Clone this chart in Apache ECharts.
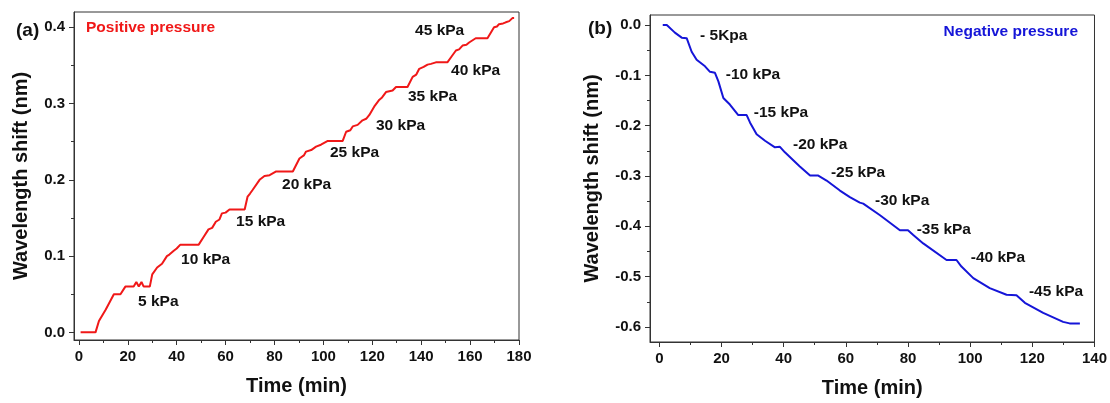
<!DOCTYPE html>
<html>
<head>
<meta charset="utf-8">
<script src="https://cdn.jsdelivr.net/npm/echarts@6/dist/echarts.min.js"></script>
<style>
    html, body { margin: 0; padding: 0; background: #fff; }
    #main { width: 1110px; height: 403px; }
</style>
</head>
<body>
<div id="main"></div>
<script>

// (a) positive pressure, red curve
var posTime  = [0.7, 6.8, 8.2, 11, 14.3, 17, 19, 22.4, 23.5, 24.5, 25.6, 26.5, 29, 30, 32, 34, 36, 37, 38.8, 40, 41.5, 49, 51, 53, 54.5, 56, 57.5, 58.5, 60, 61.6, 67.8, 69, 70, 71.1, 73.9, 75.9, 78, 80.7, 87.5, 90.2, 92, 92.9, 95, 97, 99, 101.8, 107.9, 109.3, 111, 112, 114, 116, 117.5, 118.8, 121, 122.9, 124, 125.6, 128.3, 129.7, 134.4, 136.5, 138, 139.2, 141, 142.6, 144, 146, 150.7, 152.5, 154.2, 155.5, 156.9, 158.5, 159.6, 162.3, 167.1, 169.8, 171, 171.8, 173.5, 174.6, 176, 177.3, 178];
var posShift = [0, 0, 0.015, 0.03, 0.05, 0.05, 0.06, 0.06, 0.066, 0.06, 0.066, 0.06, 0.06, 0.076, 0.085, 0.09, 0.1, 0.102, 0.107, 0.11, 0.115, 0.115, 0.125, 0.135, 0.137, 0.145, 0.148, 0.156, 0.157, 0.161, 0.161, 0.178, 0.182, 0.187, 0.2, 0.205, 0.206, 0.211, 0.211, 0.228, 0.232, 0.237, 0.239, 0.2435, 0.246, 0.251, 0.251, 0.263, 0.265, 0.27, 0.272, 0.278, 0.28, 0.285, 0.297, 0.305, 0.308, 0.315, 0.317, 0.3216, 0.3216, 0.335, 0.338, 0.3455, 0.348, 0.351, 0.352, 0.354, 0.354, 0.362, 0.3695, 0.371, 0.376, 0.377, 0.38, 0.3856, 0.3856, 0.4, 0.401, 0.404, 0.405, 0.4065, 0.408, 0.412, 0.412];

// (b) negative pressure, blue curve
var negTime  = [1.1, 2.4, 5, 7.2, 8.8, 10.4, 12, 14.7, 16.3, 17.9, 19, 20.6, 22.7, 25.4, 28.1, 29.2, 31.3, 34, 37.2, 38.8, 40.4, 45.2, 48.5, 51, 53.8, 58.1, 61.3, 64.5, 65.6, 71, 77.4, 80, 81.7, 84.9, 92.4, 95.6, 97.2, 101, 106.3, 111.7, 114.9, 117.6, 123.5, 129.9, 132, 135.3];
var negShift = [0, 0, -0.015, -0.025, -0.026, -0.053, -0.069, -0.082, -0.093, -0.095, -0.112, -0.145, -0.158, -0.179, -0.179, -0.194, -0.217, -0.23, -0.243, -0.242, -0.253, -0.281, -0.299, -0.299, -0.309, -0.329, -0.342, -0.353, -0.355, -0.378, -0.408, -0.408, -0.4175, -0.434, -0.467, -0.467, -0.48, -0.503, -0.523, -0.536, -0.537, -0.552, -0.572, -0.59, -0.593, -0.593];

// pressure labels [time, shift, text]
var posNotes = [[24.2, 0.0405, '5 kPa'], [41.8, 0.095, '10 kPa'], [64.3, 0.145, '15 kPa'], [83.1, 0.193, '20 kPa'], [102.7, 0.235, '25 kPa'], [121.5, 0.2705, '30 kPa'], [134.6, 0.3086, '35 kPa'], [152.2, 0.3427, '40 kPa'], [137.5, 0.395, '45 kPa']];
var negNotes = [[13.1, -0.0217, '- 5Kpa'], [21.4, -0.0986, '-10 kPa'], [30.4, -0.1736, '-15 kPa'], [43.0, -0.2387, '-20 kPa'], [55.2, -0.2939, '-25 kPa'], [69.4, -0.349, '-30 kPa'], [82.8, -0.406, '-35 kPa'], [100.2, -0.4615, '-40 kPa'], [118.9, -0.5306, '-45 kPa']];

// tick labels
var posXLabels = [0, 20, 40, 60, 80, 100, 120, 140, 160, 180];
var posXMinor  = [10, 30, 50, 70, 90, 110, 130, 150, 170];
var posYLabels = [0, 0.1, 0.2, 0.3, 0.4];
var posYMinor  = [0.05, 0.15, 0.25, 0.35];
var negXLabels = [0, 20, 40, 60, 80, 100, 120, 140];
var negXMinor  = [10, 30, 50, 70, 90, 110, 130];
var negYLabels = [-0.6, -0.5, -0.4, -0.3, -0.2, -0.1, 0];
var negYMinor  = [-0.55, -0.45, -0.35, -0.25, -0.15, -0.05];

var FONT = '"Liberation Sans", Arial, sans-serif';
var AXIS_COLOR = '#333';

function zip(xs, ys) {
    var out = [];
    for (var i = 0; i < xs.length; i++) out.push([xs[i], ys[i]]);
    return out;
}

function mainAxis(kind, grid, min, max, labels, opts) {
    var a = {
        type: 'value', gridIndex: grid, min: min, max: max,
        position: kind === 'y' ? 'left' : 'bottom',
        axisLine: { show: true, onZero: false, lineStyle: { color: AXIS_COLOR, width: 1 } },
        axisTick: { show: true, length: 5, customValues: labels, lineStyle: { color: AXIS_COLOR } },
        axisLabel: {
            customValues: labels, margin: 9,
            color: '#111', fontFamily: FONT, fontWeight: 'bold', fontSize: 15,
            formatter: kind === 'y' ? function (v) { return v.toFixed(1); } : function (v) { return String(v); }
        },
        splitLine: { show: false },
        name: kind === 'y' ? 'Wavelength shift (nm)' : 'Time (min)',
        nameLocation: 'middle',
        nameTextStyle: { color: '#111', fontFamily: FONT, fontWeight: 'bold', fontSize: 20 }
    };
    for (var k in opts) a[k] = opts[k];
    return a;
}

// second axis on the same side, only for the short minor ticks
function minorAxis(kind, grid, min, max, ticks) {
    return {
        type: 'value', gridIndex: grid, min: min, max: max,
        position: kind === 'y' ? 'left' : 'bottom',
        axisLine: { show: false, onZero: false },
        axisTick: { show: true, length: 3, customValues: ticks, lineStyle: { color: AXIS_COLOR } },
        axisLabel: { show: false, customValues: ticks },
        splitLine: { show: false }
    };
}

function noteLabels(xIdx, yIdx, notes) {
    return {
        type: 'scatter', xAxisIndex: xIdx, yAxisIndex: yIdx,
        symbolSize: 0, silent: true,
        itemStyle: { opacity: 1 },
        data: notes.map(function (n) { return { value: [n[0], n[1]], name: n[2] }; }),
        label: {
            show: true, position: 'right', distance: 0,
            formatter: '{b}', color: '#111', opacity: 1,
            fontFamily: FONT, fontWeight: 'bold', fontSize: 15.5
        }
    };
}

var chart = echarts.init(document.getElementById('main'), null, { renderer: 'canvas' });

var option = {
    animation: false,
    backgroundColor: '#fff',
    title: [
        { text: '(a)', left: 11, top: 16, textStyle: { fontFamily: FONT, fontWeight: 'bold', fontSize: 19, color: '#111' } },
        { text: 'Positive pressure', left: 81, top: 15, textStyle: { fontFamily: FONT, fontWeight: 'bold', fontSize: 15.5, color: '#f01818' } },
        { text: '(b)', left: 583, top: 14, textStyle: { fontFamily: FONT, fontWeight: 'bold', fontSize: 19, color: '#111' } },
        { text: 'Negative pressure', right: 27, top: 19, textStyle: { fontFamily: FONT, fontWeight: 'bold', fontSize: 15.5, color: '#1515d8' } }
    ],
    grid: [
        { left: 74, top: 12, width: 445, height: 328, show: true, borderColor: AXIS_COLOR, borderWidth: 1, backgroundColor: 'transparent' },
        { left: 650, top: 15, width: 445, height: 329, show: true, borderColor: AXIS_COLOR, borderWidth: 1, backgroundColor: 'transparent' }
    ],
    xAxis: [
        mainAxis('x', 0, -2, 180, posXLabels, { nameGap: 36 }),
        minorAxis('x', 0, -2, 180, posXMinor),
        mainAxis('x', 1, -3, 140, negXLabels, { nameGap: 36 }),
        minorAxis('x', 1, -3, 140, negXMinor)
    ],
    yAxis: [
        mainAxis('y', 0, -0.01, 0.42, posYLabels, { nameGap: 43 }),
        minorAxis('y', 0, -0.01, 0.42, posYMinor),
        mainAxis('y', 1, -0.63, 0.02, negYLabels, { nameGap: 48 }),
        minorAxis('y', 1, -0.63, 0.02, negYMinor)
    ],
    series: [
        {
            type: 'line', xAxisIndex: 0, yAxisIndex: 0,
            data: zip(posTime, posShift),
            showSymbol: false, smooth: false,
            lineStyle: { color: '#f01818', width: 2 }
        },
        {
            type: 'line', xAxisIndex: 2, yAxisIndex: 2,
            data: zip(negTime, negShift),
            showSymbol: false, smooth: false,
            lineStyle: { color: '#1515d8', width: 2 }
        },
        noteLabels(0, 0, posNotes),
        noteLabels(2, 2, negNotes)
    ]
};

chart.setOption(option);

</script>
</body>
</html>
